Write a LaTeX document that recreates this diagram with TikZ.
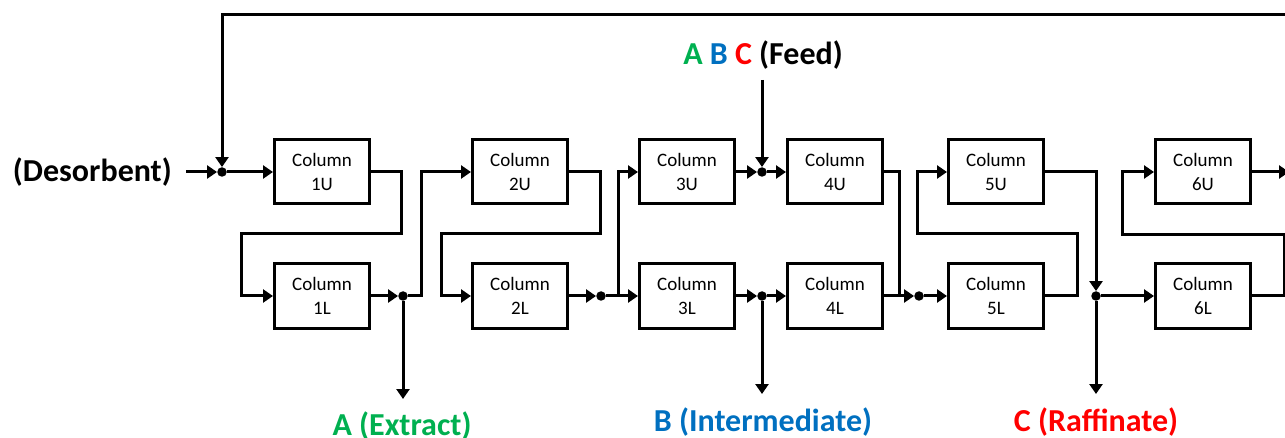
\documentclass[tikz,border=0pt]{standalone}
\usepackage{fontspec}
\setmainfont{Carlito}
\usetikzlibrary{arrows.meta}
\definecolor{cA}{HTML}{00B050}
\definecolor{cB}{HTML}{0070C0}
\definecolor{cC}{HTML}{FF0000}
\begin{document}
\begin{tikzpicture}[x=1pt,y=-1pt,
  pipe/.style={line width=3pt},
  flow/.style={pipe, -{Triangle[length=10pt,width=13pt]}},
  col/.style={draw, line width=3pt, minimum width=95pt, minimum height=64pt,
    align=center, inner sep=0pt, font=\fontsize{19}{24}\selectfont},
  jn/.style={circle, fill, minimum size=9.5pt, inner sep=0pt},
  lbl/.style={inner sep=0pt, font=\fontsize{32}{38}\selectfont\bfseries}]
\useasboundingbox (0,0) rectangle (1285,438);

% columns: upper and lower row
\node[col] (u1) at (322,172)  {Column\\1U};
\node[col] (l1) at (322,296)  {Column\\1L};
\node[col] (u2) at (520,172)  {Column\\2U};
\node[col] (l2) at (520,296)  {Column\\2L};
\node[col] (u3) at (687,172)  {Column\\3U};
\node[col] (l3) at (687,296)  {Column\\3L};
\node[col] (u4) at (835,172)  {Column\\4U};
\node[col] (l4) at (835,296)  {Column\\4L};
\node[col] (u5) at (996,172)  {Column\\5U};
\node[col] (l5) at (996,296)  {Column\\5L};
\node[col] (u6) at (1203,172) {Column\\6U};
\node[col] (l6) at (1203,296) {Column\\6L};

% junction points
\node[jn] (jd) at (222,172)  {};
\node[jn] (j1) at (403,296)  {};
\node[jn] (j2) at (601,296)  {};
\node[jn] (jf) at (762,172)  {};
\node[jn] (jb) at (762,296)  {};
\node[jn] (j4) at (919,296)  {};
\node[jn] (jc) at (1096,296) {};

% stream labels
\node[lbl, anchor=east] (des) at (172,172) {(Desorbent)};
\node[lbl] (feed) at (763,55) {\textcolor{cA}{A} \textcolor{cB}{B} \textcolor{cC}{C} (Feed)};
\node[lbl, text=cA] (ext) at (402,426) {A (Extract)};
\node[lbl, text=cB] (int) at (763,422) {B (Intermediate)};
\node[lbl, text=cC] (raf) at (1096,422) {C (Raffinate)};

% free ends
\coordinate (ret) at (1290,15);
\coordinate (fin) at (762,80);
\coordinate (oa) at (403,399);
\coordinate (ob) at (762,394);
\coordinate (oc) at (1096,394);
\coordinate (out) at (1289,172);

% desorbent inlet and recycle
\draw[flow] ([xshift=14pt]des.east) -- (jd);
\draw[flow] (ret) -- (jd |- ret) -- (jd);
\draw[flow] (jd) -- (u1);

% zone 1
\draw[flow] (u1.east) -- (401,172) -- (401,234) -- (241,234) -- (241,296) -- (l1.west);
\draw[flow] (l1) -- (j1);
\draw[flow] (j1) -- (oa);
\draw[flow] (j1) -- (421,296) -- (421,172) -- (u2.west);

% zone 2
\draw[flow] (u2.east) -- (600,172) -- (600,234) -- (441,234) -- (441,296) -- (l2.west);
\draw[flow] (l2) -- (j2);
\draw[flow] (j2) -- (l3);
\draw[flow] (618,296) -- (618,172) -- (u3.west);

% zone 3: feed and intermediate
\draw[flow] (fin) -- (jf);
\draw[flow] (u3) -- (jf);
\draw[flow] (jf) -- (u4);
\draw[flow] (l3) -- (jb);
\draw[flow] (jb) -- (l4);
\draw[flow] (jb) -- (ob);

% zone 4
\draw[pipe] (u4.east) -- (899,172) -- (899,296);
\draw[flow] (l4) -- (j4);
\draw[flow] (j4) -- (l5);
\draw[flow] (l5.east) -- (1077,296) -- (1077,234) -- (917,234) -- (917,172) -- (u5.west);

% zone 5: raffinate
\draw[flow] (u5.east) -- (1096,172) -- (jc);
\draw[flow] (jc) -- (l6);
\draw[flow] (jc) -- (oc);

% zone 6
\draw[flow] (l6.east) -- (1284,296) -- (1284,235) -- (1122,235) -- (1122,172) -- (u6.west);
\draw[flow] (u6) -- (out);
\end{tikzpicture}
\end{document}
